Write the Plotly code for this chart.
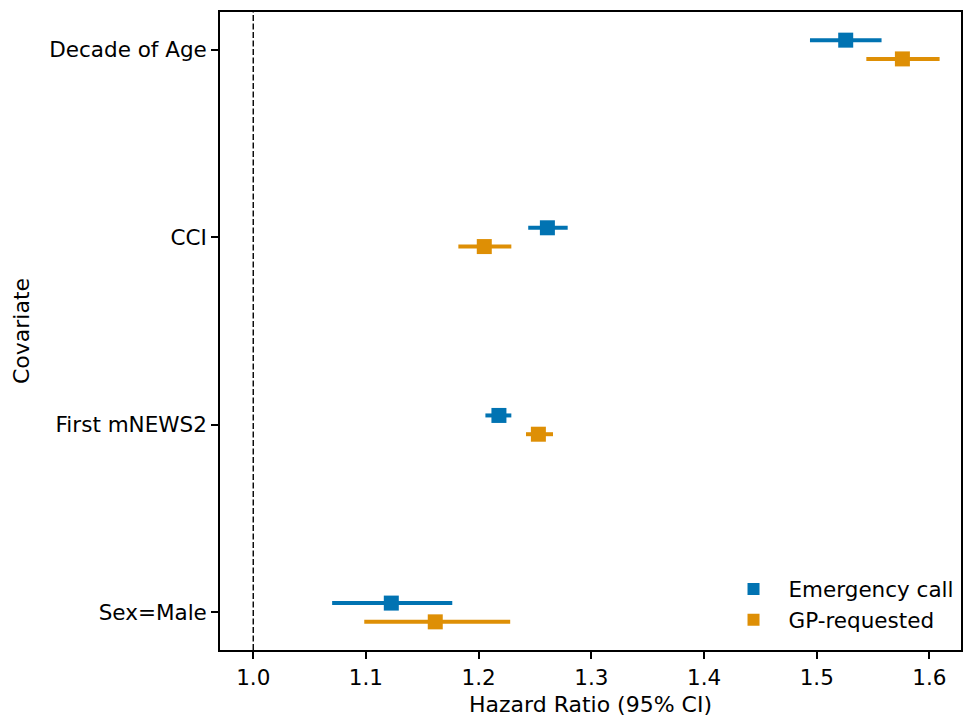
import plotly.graph_objects as go

covariates = ["Sex=Male", "First mNEWS2", "CCI", "Decade of Age"]
y_pos = [0, 1, 2, 3]

emerg_hr = [1.1225, 1.218, 1.261, 1.5257]
emerg_lo = [1.070, 1.206, 1.244, 1.494]
emerg_hi = [1.1766, 1.229, 1.279, 1.5575]

gp_hr = [1.1615, 1.253, 1.205, 1.576]
gp_lo = [1.0985, 1.242, 1.182, 1.544]
gp_hi = [1.228, 1.266, 1.229, 1.609]

x_ticks = [1.0, 1.1, 1.2, 1.3, 1.4, 1.5, 1.6]
offset = 0.05
font = "DejaVu Sans"
fs = 21.5

fig = go.Figure()

def add(name, hr, lo, hi, color, dy):
    fig.add_trace(go.Scatter(
        x=hr, y=[p + dy for p in y_pos], mode="markers", name=name,
        marker=dict(symbol="square", size=15, color=color),
        error_x=dict(type="data", symmetric=False,
                     array=[h - m for h, m in zip(hi, hr)],
                     arrayminus=[m - l for m, l in zip(hr, lo)],
                     color=color, thickness=4, width=0),
    ))

add("Emergency call", emerg_hr, emerg_lo, emerg_hi, "#0173B2", offset)
add("GP-requested", gp_hr, gp_lo, gp_hi, "#DE8F05", -offset)

fig.add_vline(x=1.0, line=dict(color="black", width=1.4, dash="6px,2.5px"))

axis_common = dict(showgrid=False, zeroline=False, showline=True, linecolor="black",
                   linewidth=1.7, mirror=True, ticks="outside", ticklen=7,
                   tickwidth=1.7, tickcolor="black",
                   tickfont=dict(family=font, size=fs, color="black"))

fig.update_layout(
    width=964, height=719,
    margin=dict(l=220, r=1, t=12, b=69),
    plot_bgcolor="white", paper_bgcolor="white",
    font=dict(family=font, size=fs, color="black"),
    showlegend=True,
    legend=dict(x=0.998, y=0.015, xanchor="right", yanchor="bottom",
                bgcolor="rgba(255,255,255,0)", borderwidth=0,
                font=dict(family=font, size=fs), itemsizing="constant",
                itemwidth=60, tracegroupgap=0),
    xaxis=dict(range=[0.9705, 1.628], tickvals=x_ticks,
               ticktext=[f"{v:.1f}" for v in x_ticks],
               title=dict(text="Hazard Ratio (95% CI)", standoff=8,
                          font=dict(family=font, size=22)),
               **axis_common),
    yaxis=dict(range=[-0.2, 3.2], tickvals=y_pos, ticktext=covariates,
               title=dict(text="Covariate", standoff=14,
                          font=dict(family=font, size=22)),
               **axis_common),
)

fig.write_html("out.html", config={"displayModeBar": False},
               post_script="document.body.style.margin='0px';")
